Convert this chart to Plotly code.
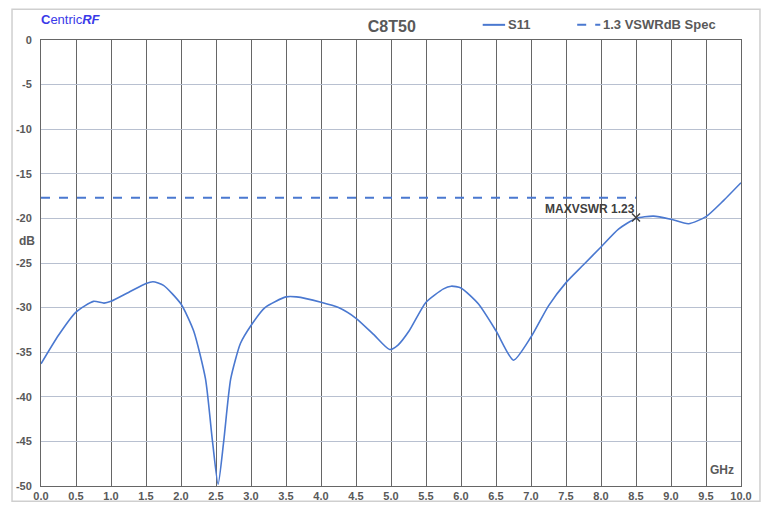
import plotly.graph_objects as go

freq_ghz = [0.0, 0.25, 0.5, 0.75, 0.9, 1.0, 1.25, 1.5, 1.6, 1.75, 2.0, 2.18, 2.35, 2.45, 2.53,
            2.61, 2.71, 2.85, 3.0, 3.2, 3.5, 3.65, 4.0, 4.25, 4.5, 4.75, 4.98, 5.1, 5.26,
            5.5, 5.75, 5.86, 6.0, 6.25, 6.5, 6.75, 7.0, 7.25, 7.5, 7.75, 8.0, 8.25, 8.5,
            8.75, 9.0, 9.25, 9.5, 9.75, 10.0]
s11_db = [-36.3, -33.1, -30.5, -29.3, -29.5, -29.3, -28.3, -27.3, -27.1, -27.5, -29.6, -32.6, -38.0, -45.0, -49.8,
          -45.0, -38.0, -34.0, -32.0, -30.0, -28.8, -28.8, -29.4, -30.0, -31.2, -33.0, -34.7, -34.2, -32.6,
          -29.4, -27.9, -27.6, -27.8, -29.6, -32.6, -35.9, -33.3, -29.8, -27.2, -25.2, -23.2, -21.2, -20.0,
          -19.75, -20.1, -20.6, -19.8, -18.0, -16.0]

spec_x = [0.0, 8.5]
spec_db = [-17.69, -17.69]

marker_x = [8.5]
marker_db = [-19.9]
marker_label = "MAXVSWR 1.23"

x_ticks = [i * 0.5 for i in range(21)]
y_ticks = [0, -5, -10, -15, -20, -25, -30, -35, -40, -45, -50]

title_text = "C8T50"
legend_names = ["S11", "1.3 VSWRdB Spec"]
blue = "#4a78d0"
txt = "#595959"
font_fam = "Liberation Sans, Arial"

fig = go.Figure()
fig.add_trace(go.Scatter(x=freq_ghz, y=s11_db, mode="lines", name=legend_names[0],
                         line=dict(color=blue, width=1.6, shape="spline", smoothing=0.6)))
fig.add_trace(go.Scatter(x=spec_x, y=spec_db, mode="lines", name=legend_names[1],
                         line=dict(color=blue, width=2, dash="dash")))
fig.add_trace(go.Scatter(x=marker_x, y=marker_db, mode="markers", showlegend=False,
                         marker=dict(symbol="x-thin", size=8, line=dict(color="#404040", width=1.5))))

fig.add_annotation(x=marker_x[0], y=marker_db[0], text="<b>" + marker_label + "</b>", showarrow=False,
                   xanchor="right", yanchor="bottom", xshift=1, yshift=0,
                   font=dict(family=font_fam, size=12, color="#404040"))

# page body has an 8px margin, so the figure is sized 8px smaller and shifted
fig.update_layout(
    width=762, height=497,
    margin=dict(l=33, r=29, t=32, b=19, autoexpand=False),
    paper_bgcolor="white", plot_bgcolor="white",
    title=dict(text="<b>" + title_text + "</b>", x=0.5037, xanchor="center", y=0.962, yanchor="middle",
               font=dict(family=font_fam, size=16, color=txt)),
    showlegend=False,
    xaxis=dict(range=[0, 10], tickvals=x_ticks, ticktext=[f"{v:.1f}" for v in x_ticks],
               showgrid=True, gridcolor="#666666", gridwidth=1, automargin=False,
               showline=True, linecolor="#666666", mirror=True, ticks="", zeroline=False,
               tickfont=dict(family=font_fam, size=11, color=txt, weight="bold")),
    yaxis=dict(range=[-50, 0], tickvals=y_ticks, ticktext=[str(v) for v in y_ticks],
               showgrid=True, gridcolor="#b8c0d0", gridwidth=1, automargin=False,
               showline=True, linecolor="#666666", mirror=True, ticks="", zeroline=False,
               ticklabelstandoff=6,
               tickfont=dict(family=font_fam, size=11, color=txt, weight="bold")),
)

# manual legend (keeps plot area fixed)
fig.add_shape(type="line", xref="paper", yref="paper", x0=0.631, x1=0.663, y0=1.034, y1=1.034,
              line=dict(color=blue, width=2))
fig.add_annotation(xref="paper", yref="paper", x=0.664, y=1.034, text="<b>" + legend_names[0] + "</b>",
                   showarrow=False, xanchor="left", yanchor="middle",
                   font=dict(family=font_fam, size=13, color=txt))
fig.add_shape(type="line", xref="paper", yref="paper", x0=0.766, x1=0.799, y0=1.034, y1=1.034,
              line=dict(color=blue, width=2, dash="dash"))
fig.add_annotation(xref="paper", yref="paper", x=0.8, y=1.034, text="<b>" + legend_names[1] + "</b>",
                   showarrow=False, xanchor="left", yanchor="middle",
                   font=dict(family=font_fam, size=13, color=txt))

fig.add_annotation(xref="paper", yref="paper", x=-0.006, y=0.55, text="<b>dB</b>", showarrow=False,
                   xanchor="right", yanchor="middle",
                   font=dict(family=font_fam, size=12, color=txt))
fig.add_annotation(xref="paper", yref="paper", x=0.993, y=0.015, text="<b>GHz</b>", showarrow=False,
                   xanchor="right", yanchor="bottom",
                   font=dict(family=font_fam, size=12, color=txt))
fig.add_annotation(xref="paper", yref="paper", x=-0.003, y=1.045, text="<b>C</b>entric<b><i>RF</i></b>",
                   showarrow=False, xanchor="left", yanchor="middle",
                   font=dict(family=font_fam, size=13, color="#3a3ae8"))

fig.add_shape(type="rect", xref="paper", yref="paper", x0=-0.0414, x1=1.0271, y0=-0.034, y1=1.069,
              line=dict(color="#cfcfcf", width=1.5), fillcolor="rgba(0,0,0,0)", layer="above")

fig.write_html("out.html")
